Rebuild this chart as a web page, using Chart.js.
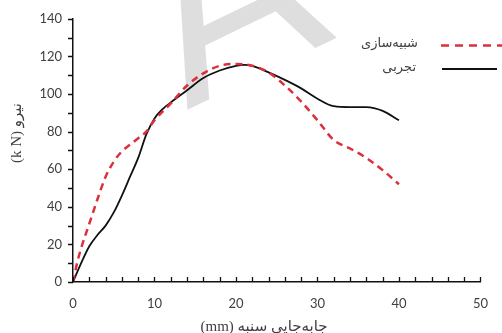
<!DOCTYPE html>
<html>
<head>
<meta charset="utf-8">
<script src="https://cdn.jsdelivr.net/npm/chart.js@4.4.1/dist/chart.umd.min.js"></script>
<style>
  body { margin: 0; background: #fff; overflow: hidden; }
  #wrap { width: 502px; height: 333px; }
</style>
</head>
<body>
<div id="wrap"><canvas id="chart" width="502" height="333"></canvas></div>
<script>
// experimental curve (تجربی)
const expDisp  = [0, 1, 2, 3, 4, 5, 6, 7, 8, 9, 10, 11, 12, 14, 16, 18, 20, 21, 22, 24, 26, 28, 30, 32, 34, 36, 38, 40];
const expForce = [0, 10, 19, 25, 30, 37, 46, 56, 66, 78.5, 87, 92, 95.5, 102, 108.5, 112.5, 115, 115.5, 115, 111.5, 107.5, 103, 97.5, 93.5, 93, 93, 91, 86];

// simulation curve (شبیه‌سازی)
const simDisp  = [0, 0.5, 1, 2, 3, 4, 5, 6, 7, 8, 9, 10, 12, 14, 16, 18, 20, 22, 24, 26, 28, 30, 32, 34, 36, 38, 40];
const simForce = [0, 10, 18, 31, 44, 56, 64, 69.5, 73, 76.5, 80, 86, 95, 104.5, 111, 115, 116, 115, 111.5, 104.5, 96, 86, 75.5, 71, 66, 59.5, 52];

const seriesNames = ['شبیه‌سازی', 'تجربی'];
const xTitle = '(mm) جابه‌جایی سنبه';
const yTitle = '(k N) نیرو';

const xMax = 50, xStep = 10, xMinor = 2;
const yMax = 140, yStep = 20, yMinor = 10;

const toPoints = (xs, ys) => xs.map((x, i) => ({ x: x, y: ys[i] }));

const RED = '#dc2f3c';
const TXT = '#404040';

// faint watermark letter behind the plot
const watermark = {
    id: 'watermark',
    beforeDraw(chart) {
        const ctx = chart.ctx;
        ctx.save();
        ctx.fillStyle = '#dedede';
        ctx.font = '250px "Liberation Sans"';
        ctx.textAlign = 'left';
        ctx.textBaseline = 'alphabetic';
        ctx.translate(187, 110);
        ctx.rotate(-0.45);
        ctx.fillText('A', 0, 0);
        ctx.restore();
    }
};

// minor tick marks, axis titles and the legend on the right
const extras = {
    id: 'extras',
    afterDraw(chart) {
        const ctx = chart.ctx;
        const area = chart.chartArea;
        const xs = chart.scales.x, ys = chart.scales.y;
        ctx.save();
        ctx.strokeStyle = '#111';
        ctx.lineWidth = 1.3;
        ctx.beginPath();
        for (let v = 0; v <= xMax; v += xMinor) {
            const px = Math.round(xs.getPixelForValue(v)) + 0.5;
            ctx.moveTo(px, area.bottom);
            ctx.lineTo(px, area.bottom - 5);
        }
        for (let v = 0; v <= yMax; v += yMinor) {
            const py = Math.round(ys.getPixelForValue(v)) + 0.5;
            ctx.moveTo(area.left, py);
            ctx.lineTo(area.left - 5, py);
        }
        ctx.stroke();

        // axis titles
        ctx.fillStyle = TXT;
        ctx.textAlign = 'center';
        ctx.textBaseline = 'middle';
        ctx.direction = 'ltr';
        ctx.font = '15px "Liberation Serif", "DejaVu Sans"';
        ctx.fillText(xTitle, 264, 327);
        ctx.save();
        ctx.translate(17, 133);
        ctx.rotate(-Math.PI / 2);
        ctx.fillText(yTitle, 0, 0);
        ctx.restore();

        // legend
        ctx.font = '13px "DejaVu Sans"';
        ctx.textAlign = 'right';
        ctx.fillText(seriesNames[0], 418, 44);
        ctx.fillText(seriesNames[1], 416, 68);
        ctx.lineWidth = 2.5;
        ctx.strokeStyle = RED;
        ctx.setLineDash([8, 6]);
        ctx.beginPath();
        ctx.moveTo(441, 45.5);
        ctx.lineTo(502, 45.5);
        ctx.stroke();
        ctx.setLineDash([]);
        ctx.lineWidth = 2;
        ctx.strokeStyle = '#111';
        ctx.beginPath();
        ctx.moveTo(442, 69);
        ctx.lineTo(497, 69);
        ctx.stroke();
        ctx.restore();
    }
};

new Chart(document.getElementById('chart'), {
    type: 'line',
    data: {
        datasets: [
            {
                label: seriesNames[0],
                data: toPoints(simDisp, simForce),
                borderColor: RED,
                borderWidth: 2.5,
                borderDash: [7, 5],
                pointRadius: 0,
                fill: false,
                cubicInterpolationMode: 'monotone'
            },
            {
                label: seriesNames[1],
                data: toPoints(expDisp, expForce),
                borderColor: '#111',
                borderWidth: 1.8,
                pointRadius: 0,
                fill: false,
                cubicInterpolationMode: 'monotone'
            }
        ]
    },
    options: {
        responsive: false,
        animation: false,
        layout: { padding: { top: 18, right: 12, left: 0, bottom: 0 } },
        plugins: {
            legend: { display: false },
            tooltip: { enabled: false }
        },
        scales: {
            x: {
                type: 'linear',
                min: 0,
                max: xMax,
                afterFit: (s) => { s.height = 51; },
                grid: { display: false, drawTicks: false },
                border: { display: true, color: '#111', width: 1.5 },
                ticks: {
                    stepSize: xStep,
                    padding: 14,
                    color: TXT,
                    font: { family: 'Lato', size: 13 }
                }
            },
            y: {
                min: 0,
                max: yMax,
                afterFit: (s) => { s.width = 73; },
                grid: { display: false, drawTicks: false },
                border: { display: true, color: '#111', width: 1.5 },
                ticks: {
                    stepSize: yStep,
                    padding: 11,
                    color: TXT,
                    font: { family: 'Lato', size: 13 }
                }
            }
        }
    },
    plugins: [watermark, extras]
});
</script>
</body>
</html>
